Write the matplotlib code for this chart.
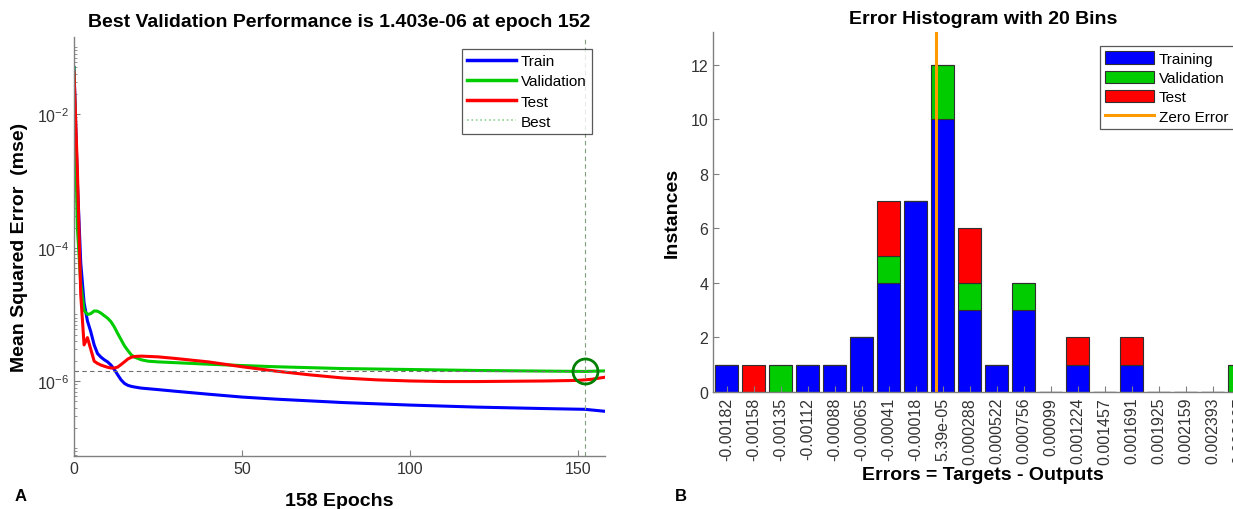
import numpy as np
import matplotlib
matplotlib.use("Agg")
import matplotlib.pyplot as plt
from matplotlib.lines import Line2D
from matplotlib.ticker import LogLocator, NullFormatter, FixedLocator

plt.rcParams['font.family'] = ['Liberation Sans', 'DejaVu Sans']
plt.rcParams['mathtext.default'] = 'regular'

# ---------------------------------------------------------------
# Panel A: training performance
# ---------------------------------------------------------------
n_epochs = 158
best_epoch = 152
best_perf = 1.403e-06

train_epochs = [0, 1, 2, 3, 4, 5, 6, 7, 8, 9, 10, 11, 12, 13, 14, 15, 16, 17, 18,
                20, 25, 30, 40, 50, 60, 80, 100, 120, 140, 152, 158]
train_mse = [5.0e-2, 1.0e-3, 6.0e-5, 1.5e-5, 8.0e-6, 5.5e-6, 3.5e-6, 2.6e-6, 2.3e-6,
             2.1e-6, 1.95e-6, 1.75e-6, 1.5e-6, 1.25e-6, 1.05e-6, 0.93e-6, 0.87e-6,
             0.84e-6, 0.82e-6, 0.79e-6, 0.75e-6, 0.71e-6, 0.64e-6, 0.58e-6, 0.54e-6,
             0.48e-6, 0.44e-6, 0.41e-6, 0.39e-6, 0.38e-6, 0.355e-6]

val_epochs = [0, 1, 2, 3, 4, 5, 6, 7, 8, 9, 10, 11, 12, 13, 14, 15, 16, 17, 18,
              20, 22, 25, 30, 40, 50, 60, 80, 100, 120, 140, 152, 158]
val_mse = [5.0e-2, 2.0e-4, 3.0e-5, 1.15e-5, 1.0e-5, 1.03e-5, 1.13e-5, 1.12e-5, 1.05e-5,
           9.6e-6, 8.8e-6, 7.8e-6, 6.5e-6, 5.2e-6, 4.2e-6, 3.4e-6, 2.9e-6, 2.5e-6, 2.3e-6,
           2.1e-6, 2.0e-6, 1.95e-6, 1.9e-6, 1.8e-6, 1.72e-6, 1.65e-6, 1.55e-6, 1.5e-6,
           1.45e-6, 1.42e-6, 1.403e-6, 1.43e-6]

test_epochs = [0, 1, 2, 3, 4, 5, 6, 7, 8, 9, 10, 11, 12, 13, 14, 15, 16, 17, 18,
               20, 25, 30, 40, 50, 60, 70, 80, 90, 100, 110, 120, 130, 140, 150, 154, 158]
test_mse = [4.3e-2, 1.5e-3, 2.0e-5, 3.5e-6, 4.5e-6, 3.0e-6, 2.0e-6, 1.85e-6, 1.75e-6,
            1.68e-6, 1.62e-6, 1.58e-6, 1.58e-6, 1.63e-6, 1.78e-6, 1.95e-6, 2.15e-6,
            2.28e-6, 2.35e-6, 2.38e-6, 2.32e-6, 2.2e-6, 1.95e-6, 1.65e-6, 1.42e-6,
            1.25e-6, 1.12e-6, 1.05e-6, 1.01e-6, 0.99e-6, 0.99e-6, 1.0e-6, 1.01e-6,
            1.03e-6, 1.07e-6, 1.15e-6]

# ---------------------------------------------------------------
# Panel B: error histogram, 20 bins (stack counts per bin)
# ---------------------------------------------------------------
bin_labels = ['-0.00182', '-0.00158', '-0.00135', '-0.00112', '-0.00088', '-0.00065',
              '-0.00041', '-0.00018', '5.39e-05', '0.000288', '0.000522', '0.000756',
              '0.00099', '0.001224', '0.001457', '0.001691', '0.001925', '0.002159',
              '0.002393', '0.002627']
bin_centers = [-0.00182, -0.00158, -0.00135, -0.00112, -0.00088, -0.00065, -0.00041,
               -0.00018, 5.39e-05, 0.000288, 0.000522, 0.000756, 0.00099, 0.001224,
               0.001457, 0.001691, 0.001925, 0.002159, 0.002393, 0.002627]
hist_training = [1, 0, 0, 1, 1, 2, 4, 7, 10, 3, 1, 3, 0, 1, 0, 1, 0, 0, 0, 0]
hist_validation = [0, 0, 1, 0, 0, 0, 1, 0, 2, 1, 0, 1, 0, 0, 0, 0, 0, 0, 0, 1]
hist_test = [0, 1, 0, 0, 0, 0, 2, 0, 0, 2, 0, 0, 0, 1, 0, 1, 0, 0, 0, 0]

C_TRAIN = (0, 0, 1)
C_VAL = (0, 0.8, 0)
C_TEST = (1, 0, 0)
C_ZERO = (1, 0.6, 0)
AX_GREY = '#808080'
TICK_GREY = '#333333'

W, H = 1233, 510
fig = plt.figure(figsize=(W / 100, H / 100), dpi=100)


def style_axes(ax):
    for side in ('top', 'right'):
        ax.spines[side].set_visible(False)
    for side in ('left', 'bottom'):
        ax.spines[side].set_color(AX_GREY)
        ax.spines[side].set_linewidth(1.0)
    ax.tick_params(which='both', direction='in', colors=AX_GREY, labelcolor=TICK_GREY,
                   labelsize=11.5)
    ax.tick_params(which='major', length=4)
    ax.tick_params(which='minor', length=2)


# ---------------- Panel A ----------------
axA = fig.add_axes([74 / W, 1 - 457 / H, 531 / W, 419 / H])
style_axes(axA)
axA.semilogy(train_epochs, train_mse, color=C_TRAIN, lw=2.2, label='Train')
axA.semilogy(val_epochs, val_mse, color=C_VAL, lw=2.2, label='Validation')
axA.semilogy(test_epochs, test_mse, color=C_TEST, lw=2.2, label='Test')
axA.set_xlim(0, n_epochs)
axA.set_ylim(7.6e-8, 0.143)
axA.axvline(best_epoch, color='#7f9f7f', lw=0.8, ls=(0, (4, 3)))
axA.axhline(best_perf, color='#6f6f6f', lw=0.8, ls=(0, (4, 3)))
axA.plot([best_epoch], [best_perf], 'o', ms=18, mfc='none', mec=(0, 0.5, 0), mew=2)

axA.yaxis.set_major_locator(FixedLocator([1e-6, 1e-4, 1e-2]))
axA.yaxis.set_minor_locator(LogLocator(base=10, subs=np.arange(1, 10), numticks=20))
axA.yaxis.set_minor_formatter(NullFormatter())
axA.set_yticklabels(['$10^{-6}$', '$10^{-4}$', '$10^{-2}$'])
axA.set_xticks([0, 50, 100, 150])

axA.set_title('Best Validation Performance is 1.403e-06 at epoch 152',
              fontsize=14, fontweight='bold', y=1 + 16 / 419, va='center', pad=0)
axA.set_xlabel('158 Epochs', fontsize=14, fontweight='bold')
axA.xaxis.set_label_coords(0.5, -(502 - 457) / 419)
axA.xaxis.label.set_va('center')
axA.set_ylabel('Mean Squared Error  (mse)', fontsize=14, fontweight='bold')
axA.yaxis.set_label_coords(-(74 - 20) / 531, 0.5)
axA.yaxis.label.set_va('center')

handlesA = [Line2D([], [], color=C_TRAIN, lw=2.5),
            Line2D([], [], color=C_VAL, lw=2.5),
            Line2D([], [], color=C_TEST, lw=2.5),
            Line2D([], [], color='#90d090', lw=1.2, ls=':')]
legA = axA.legend(handlesA, ['Train', 'Validation', 'Test', 'Best'],
                  loc='upper right', bbox_to_anchor=(592 / W, 1 - 50 / H),
                  bbox_transform=fig.transFigure, fontsize=11, frameon=True,
                  fancybox=False, handlelength=3.2, handletextpad=0.3,
                  labelspacing=0.4, borderpad=0.35, borderaxespad=0)
legA.get_frame().set_edgecolor('#303030')
legA.get_frame().set_linewidth(0.9)

# ---------------- Panel B ----------------
axB = fig.add_axes([713 / W, 1 - 393 / H, 540 / W, 360 / H])
style_axes(axB)
idx = np.arange(len(bin_labels))
tr = np.array(hist_training)
va = np.array(hist_validation)
te = np.array(hist_test)
bar_kw = dict(width=0.88, edgecolor='#303030', linewidth=0.8)
b_tr = axB.bar(idx, tr, color=C_TRAIN, **bar_kw)
b_va = axB.bar(idx, va, bottom=tr, color=C_VAL, **bar_kw)
b_te = axB.bar(idx, te, bottom=tr + va, color=C_TEST, **bar_kw)
zero_pos = np.interp(0.0, bin_centers, idx)
zline = axB.axvline(zero_pos, color=C_ZERO, lw=2.2)
axB.set_xlim(-0.5, len(bin_labels) - 0.5)
axB.set_ylim(0, 13.2)
axB.set_yticks([0, 2, 4, 6, 8, 10, 12])
axB.set_xticks(idx)
axB.set_xticklabels(bin_labels, rotation=90)

axB.set_title('Error Histogram with 20 Bins', fontsize=14, fontweight='bold',
              y=1 + 13 / 360, va='center', pad=0)
axB.set_xlabel('Errors = Targets - Outputs', fontsize=14, fontweight='bold')
axB.xaxis.set_label_coords(0.5, -(475 - 393) / 360)
axB.xaxis.label.set_va('center')
axB.set_ylabel('Instances', fontsize=14, fontweight='bold')
axB.yaxis.set_label_coords(-(713 - 672) / 540, 0.5)
axB.yaxis.label.set_va('center')

legB = axB.legend([b_tr, b_va, b_te, zline],
                  ['Training', 'Validation', 'Test', 'Zero Error'],
                  loc='upper left', bbox_to_anchor=(1100 / W, 1 - 47 / H),
                  bbox_transform=fig.transFigure, fontsize=11, frameon=True,
                  fancybox=False, handlelength=3.2, handleheight=0.9,
                  handletextpad=0.3, labelspacing=0.3, borderpad=0.35,
                  borderaxespad=0)
legB.get_frame().set_edgecolor('#303030')
legB.get_frame().set_linewidth(0.9)

fig.text(15 / W, 1 - 497 / H, 'A', fontsize=12, fontweight='bold', va='center')
fig.text(675 / W, 1 - 497 / H, 'B', fontsize=12, fontweight='bold', va='center')

fig.savefig('out.png', dpi=100)
